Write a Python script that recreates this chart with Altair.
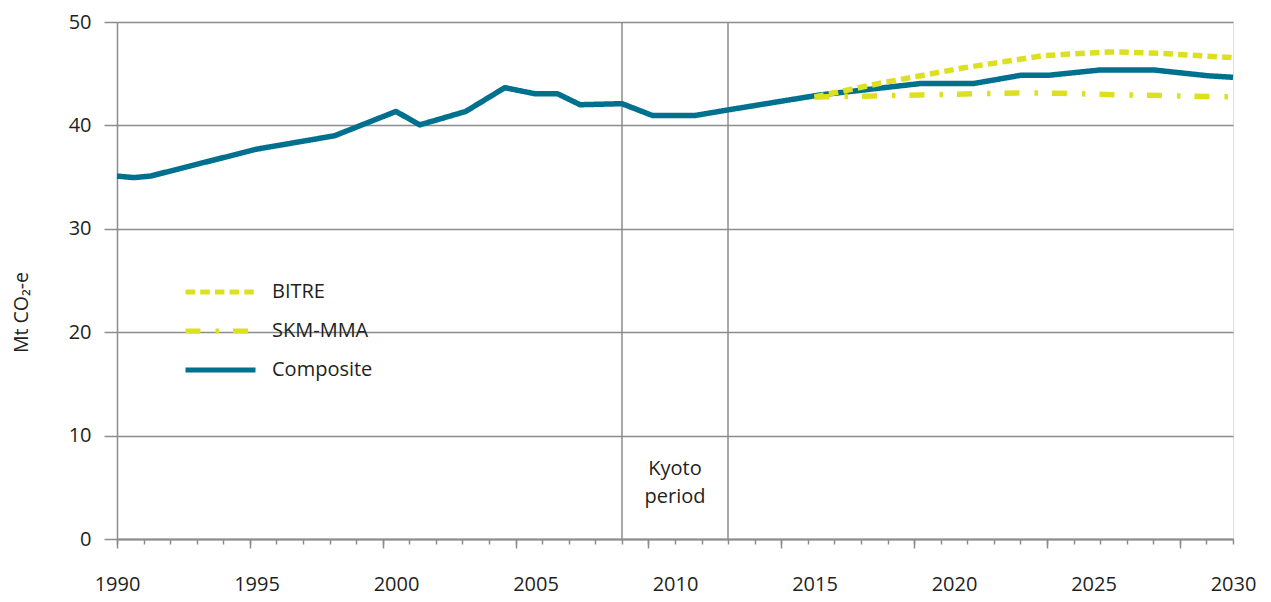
import altair as alt
import pandas as pd

# ---------------- data ----------------
composite_years = [1990.0, 1990.6, 1991.2, 1995.0, 1997.8, 2000.0, 2000.85, 2002.5,
                   2003.9, 2005.0, 2005.8, 2006.6, 2008.1, 2009.2, 2010.7, 2011.9,
                   2015.2, 2018.8, 2020.7, 2022.4, 2023.4, 2025.2, 2027.2, 2029.1, 2030.0]
composite_values = [35.1, 34.95, 35.1, 37.7, 39.0, 41.35, 40.05, 41.35,
                    43.65, 43.05, 43.05, 42.0, 42.1, 40.95, 40.95, 41.5,
                    42.95, 44.05, 44.05, 44.85, 44.85, 45.35, 45.35, 44.8, 44.65]

bitre_years = [2015.0, 2017.4, 2020.3, 2023.2, 2025.5, 2026.0, 2027.5, 2030.0]
bitre_values = [42.75, 44.1, 45.55, 46.75, 47.1, 47.1, 46.95, 46.55]

skm_years = [2015.0, 2017.1, 2018.8, 2022.4, 2023.9, 2026.1, 2030.0]
skm_values = [42.75, 42.85, 42.95, 43.15, 43.1, 42.95, 42.75]

series_names = ["BITRE", "SKM-MMA", "Composite"]
kyoto_bounds = [2008.1, 2011.9]
kyoto_label_year = [2010.0]
kyoto_label_value = [6.8]
kyoto_label_text = ["Kyoto", "period"]

year_labels = [1990, 1995, 2000, 2005, 2010, 2015, 2020, 2025, 2030]
y_ticks = [0, 10, 20, 30, 40, 50]
# the original category axis carries 42 tick intervals across 1990-2030
tick_positions = [1990 + i * 40 / 42 for i in range(43)]
major_tick_positions = tick_positions[::5]

# ---------------- styling ----------------
GRAY = "#8c8c8c"
BLUE = "#00708f"
YELLOW = "#dde021"
TEXT = "#231f20"
FONT = "Open Sans"

df_comp = pd.DataFrame({"year": composite_years, "value": composite_values, "series": "Composite"})
df_bitre = pd.DataFrame({"year": bitre_years, "value": bitre_values, "series": "BITRE"})
df_skm = pd.DataFrame({"year": skm_years, "value": skm_values, "series": "SKM-MMA"})
df_kyoto = pd.DataFrame({"year": kyoto_bounds, "value": [0, 0], "top": [50, 50]})
df_label = pd.DataFrame({"year": kyoto_label_year, "value": kyoto_label_value})

x_scale = alt.Scale(domain=[1990, 2030], nice=False, zero=False)
y_scale = alt.Scale(domain=[0, 50], nice=False)

y_axis = alt.Axis(values=y_ticks, title="Mt CO₂-e", grid=True, gridColor=GRAY, gridWidth=1.5,
                  domain=True, domainColor=GRAY, domainWidth=1.5,
                  ticks=True, tickColor=GRAY, tickWidth=1.5, tickSize=13,
                  labelPadding=13, labelFontSize=20, labelColor=TEXT, labelFont=FONT,
                  titleFontSize=19.5, titleFontWeight="normal", titleColor=TEXT, titleFont=FONT,
                  titleX=-96, titleY=290, titleAlign="center", titleBaseline="middle",
                  titleAngle=270)

x_label_axis = alt.Axis(values=year_labels, orient="bottom", ticks=False, domain=True,
                        domainColor=GRAY, domainWidth=2, grid=False, title=None,
                        labelPadding=35, labelFontSize=20, labelColor=TEXT, labelFont=FONT,
                        format="d", labelFlush=False, labelOverlap=False)
x_minor_axis = alt.Axis(values=tick_positions, orient="bottom", labels=False, domain=False,
                        ticks=True, tickSize=5, tickColor=GRAY, tickWidth=1.5, grid=False,
                        title=None)
x_major_axis = alt.Axis(values=major_tick_positions, orient="bottom", labels=False,
                        domain=False, ticks=True, tickSize=9, tickColor=GRAY, tickWidth=1.5,
                        grid=False, title=None)

color_scale = alt.Scale(domain=series_names, range=[YELLOW, YELLOW, BLUE])
dash_scale = alt.Scale(domain=series_names, range=[[9.5, 5.2], [15, 15, 3.5, 14], [1, 0]])
legend = alt.Legend(orient="none", legendX=66, legendY=260, title=None,
                    symbolType="stroke", symbolSize=4900, symbolStrokeWidth=5,
                    labelFontSize=20, labelFont=FONT, labelColor=TEXT, labelOffset=14,
                    clipHeight=20, rowPadding=19)


def series_enc(axis_x):
    return dict(
        x=alt.X("year:Q", scale=x_scale, axis=axis_x),
        y=alt.Y("value:Q", scale=y_scale, axis=y_axis),
        color=alt.Color("series:N", scale=color_scale, legend=legend),
        strokeDash=alt.StrokeDash("series:N", scale=dash_scale, legend=legend),
    )


kyoto = alt.Chart(df_kyoto).mark_rule(color=GRAY, strokeWidth=1.5).encode(
    x=alt.X("year:Q", scale=x_scale, axis=x_minor_axis),
    y=alt.Y("value:Q", scale=y_scale, axis=y_axis),
    y2="top:Q",
)

label = alt.Chart(df_label).mark_text(
    text=kyoto_label_text, fontSize=20, lineHeight=28, font=FONT, color=TEXT,
    align="center", baseline="middle"
).encode(
    x=alt.X("year:Q", scale=x_scale, axis=x_major_axis),
    y=alt.Y("value:Q", scale=y_scale, axis=y_axis),
)

comp = alt.Chart(df_comp).mark_line(strokeWidth=5.5, strokeJoin="round").encode(**series_enc(x_label_axis))
bitre = alt.Chart(df_bitre).mark_line(strokeWidth=5.5).encode(**series_enc(None))
skm = alt.Chart(df_skm).mark_line(strokeWidth=5.5).encode(**series_enc(None))

chart = alt.layer(kyoto, label, comp, bitre, skm).resolve_axis(x="independent").properties(
    width=1116, height=517,
    autosize=alt.AutoSizeParams(type="none"),
    padding={"left": 109, "top": 14, "right": 28, "bottom": 57},
).configure_view(stroke=None).configure(font=FONT)

chart.save("out.html", embed_options={"renderer": "svg", "actions": False})
